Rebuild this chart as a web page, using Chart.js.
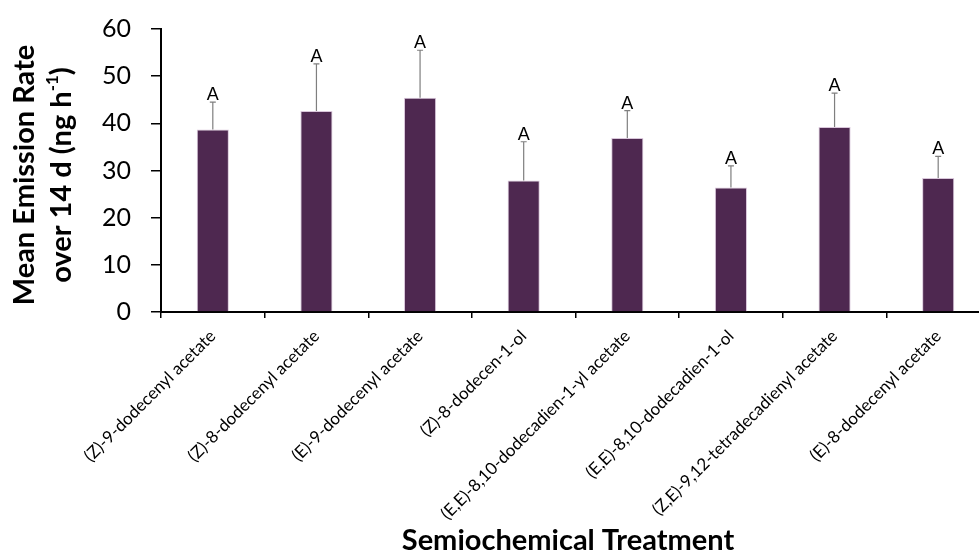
<!DOCTYPE html>
<html>
<head>
<meta charset="utf-8">
<script src="https://cdn.jsdelivr.net/npm/chart.js@4.4.1/dist/chart.umd.min.js"></script>
<style>
  html, body { margin: 0; padding: 0; background: #fff; overflow: hidden; }
  #wrap { position: absolute; left: 0; top: 0; width: 995px; height: 554px; }
</style>
</head>
<body>
<div id="wrap"><canvas id="emissionChart" width="995" height="554"></canvas></div>
<script>
const treatments = [
  '(Z)-9-dodecenyl acetate',
  '(Z)-8-dodecenyl acetate',
  '(E)-9-dodecenyl acetate',
  '(Z)-8-dodecen-1-ol',
  '(E,E)-8,10-dodecadien-1-yl acetate',
  '(E,E)-8,10-dodecadien-1-ol',
  '(Z,E)-9,12-tetradecadienyl acetate',
  '(E)-8-dodecenyl acetate'
];
const meanRate = [38.7, 42.6, 45.4, 27.9, 36.9, 26.4, 39.2, 28.4];
const stdError = [5.8, 10.0, 10.1, 8.2, 5.8, 4.6, 7.2, 4.6];
const groupLetters = ['A', 'A', 'A', 'A', 'A', 'A', 'A', 'A'];
const yTicks = [0, 10, 20, 30, 40, 50, 60];

const labelFont = 'Lato, "Open Sans", sans-serif';

// error bars (upper only) with the significance letter on top
const errorBars = {
  id: 'errorBars',
  afterDatasetsDraw(chart) {
    const ctx = chart.ctx;
    const meta = chart.getDatasetMeta(0);
    const y = chart.scales.y;
    ctx.save();
    meta.data.forEach((bar, i) => {
      const x = bar.x;
      const top = y.getPixelForValue(meanRate[i] + stdError[i]);
      ctx.strokeStyle = '#7f7f7f';
      ctx.lineWidth = 1.2;
      ctx.beginPath();
      ctx.moveTo(x, bar.y);
      ctx.lineTo(x, top);
      ctx.moveTo(x - 3, top);
      ctx.lineTo(x + 3, top);
      ctx.stroke();
      ctx.fillStyle = '#000';
      ctx.font = '18px "Liberation Sans", Arial, sans-serif';
      ctx.textAlign = 'center';
      ctx.textBaseline = 'alphabetic';
      ctx.fillText(groupLetters[i], x, top - 2);
    });
    ctx.restore();
  }
};

// axis titles, the y one has a superscript
const axisTitles = {
  id: 'axisTitles',
  afterDraw(chart) {
    const ctx = chart.ctx;
    const big = 'bold 29px ' + labelFont, small = 'bold 17px ' + labelFont;
    ctx.save();
    ctx.fillStyle = '#000';
    ctx.font = big;
    ctx.textAlign = 'center';
    ctx.textBaseline = 'alphabetic';
    ctx.fillText('Semiochemical Treatment', 568, 550);

    ctx.translate(0, 175);
    ctx.rotate(-Math.PI / 2);
    ctx.textBaseline = 'middle';
    ctx.fillText('Mean Emission Rate', 0, 25);

    const a = 'over 14 d (ng h', sup = '-1', b = ')';
    const wa = ctx.measureText(a).width, wb = ctx.measureText(b).width;
    ctx.font = small;
    const ws = ctx.measureText(sup).width;
    let x = -(wa + ws + wb) / 2;
    ctx.textAlign = 'left';
    ctx.font = big;
    ctx.fillText(a, x, 62);
    x += wa;
    ctx.font = small;
    ctx.fillText(sup, x, 53);
    x += ws;
    ctx.font = big;
    ctx.fillText(b, x, 62);
    ctx.restore();
  }
};

new Chart(document.getElementById('emissionChart').getContext('2d'), {
  type: 'bar',
  data: {
    labels: treatments,
    datasets: [{
      data: meanRate,
      backgroundColor: '#4e2850',
      borderColor: '#d9c6da',
      borderWidth: 1,
      categoryPercentage: 1,
      barPercentage: 0.31
    }]
  },
  options: {
    responsive: false,
    animation: false,
    devicePixelRatio: 1,
    layout: { padding: { top: 29, right: 5, left: 0, bottom: 0 } },
    plugins: {
      legend: { display: false },
      tooltip: { enabled: false }
    },
    scales: {
      x: {
        grid: { drawOnChartArea: false, drawTicks: true, tickLength: 6, color: '#000', lineWidth: 1.5 },
        border: { display: true, color: '#000', width: 2 },
        ticks: {
          color: '#000',
          font: { family: labelFont, size: 17 },
          maxRotation: 45,
          minRotation: 45,
          padding: 8
        },
        afterFit(scale) { scale.height = 242; }
      },
      y: {
        min: 0,
        max: 60,
        grid: { drawOnChartArea: false, drawTicks: true, tickLength: 10, color: '#000', lineWidth: 1.5 },
        border: { display: true, color: '#000', width: 2 },
        ticks: {
          stepSize: 10,
          color: '#000',
          // tight line height keeps the top label from pushing the plot down
          font: { family: labelFont, size: 25, lineHeight: 0.6 },
          padding: 20,
          callback: (v) => yTicks.includes(v) ? v : ''
        },
        afterFit(scale) { scale.width = 161; }
      }
    }
  },
  plugins: [errorBars, axisTitles]
});
</script>
</body>
</html>
